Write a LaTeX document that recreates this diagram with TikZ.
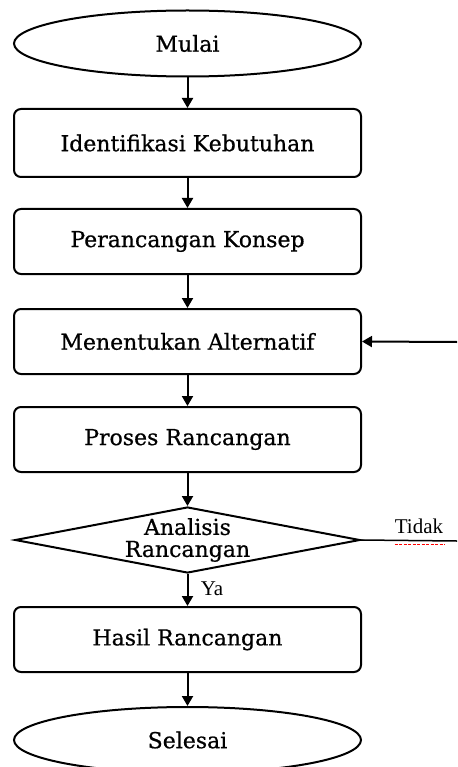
\documentclass[tikz,border=0pt]{standalone}
\usepackage{fontspec}
\setmainfont{DejaVu Serif}
\newfontfamily\boxfont[FakeBold=0.7]{DejaVu Serif}
\newfontfamily\labelfont{Liberation Serif}
\usetikzlibrary{arrows.meta,shapes.geometric}

\tikzset{
  terminal/.style={draw,ellipse,line width=2pt,minimum width=347pt,minimum height=66pt,inner sep=0pt,font=\boxfont\fontsize{22}{23}\selectfont},
  proc/.style={draw,rectangle,rounded corners=7pt,line width=2pt,minimum width=347pt,minimum height=65pt,inner sep=0pt,font=\boxfont\fontsize{22}{23}\selectfont},
  decide/.style={draw,diamond,aspect=5,line width=2pt,minimum width=345pt,minimum height=66pt,inner sep=-3pt,align=center,font=\boxfont\fontsize{22}{22}\selectfont},
  flow/.style={line width=2pt,-{Triangle[length=10pt,width=11pt]}},
  lbl/.style={inner sep=0pt,font=\labelfont\fontsize{21}{21}\selectfont}
}

\begin{document}
\begin{tikzpicture}[x=1pt,y=-1pt]
\useasboundingbox (0,0) rectangle (457,767);
% langkah-langkah
\node[terminal] (mulai) at (187.5,43.5) {Mulai};
\node[proc] (identifikasi) at (187.5,143) [minimum height=68pt] {Identifikasi Kebutuhan};
\node[proc] (konsep) at (187.5,241.5) {Perancangan Konsep};
\node[proc] (alternatif) at (187.5,341.5) {Menentukan Alternatif};
\node[proc] (proses) at (187.5,439.5) {Proses Rancangan};
\node[decide] (analisis) at (187.5,540) {Analisis\\Rancangan};
\node[proc] (hasil) at (187.5,639.5) {Hasil Rancangan};
\node[terminal] (selesai) at (187.5,740) {Selesai};
% panah
\draw[flow] (mulai) -- (identifikasi);
\draw[flow] (identifikasi) -- (konsep);
\draw[flow] (konsep) -- (alternatif);
\draw[flow] (alternatif) -- (proses);
\draw[flow] (proses) -- (analisis);
\draw[flow] (analisis) -- (hasil);
\draw[flow] (hasil) -- (selesai);
% jalur tidak
\coordinate (tidakend) at (457,541);
\coordinate (kembali) at (457,342);
\draw[line width=1.5pt] (analisis.east) -- (tidakend);
\draw[flow] (kembali) -- (alternatif.east);
\node[lbl] (tidak) at (419,526) {Tidak};
\draw[red,line width=1.3pt,dash pattern=on 3pt off 1.5pt] (tidak.south west)++(0,11) -- ++(50,0);
\node[lbl] (ya) at (212,589) {Ya};
\end{tikzpicture}
\end{document}
